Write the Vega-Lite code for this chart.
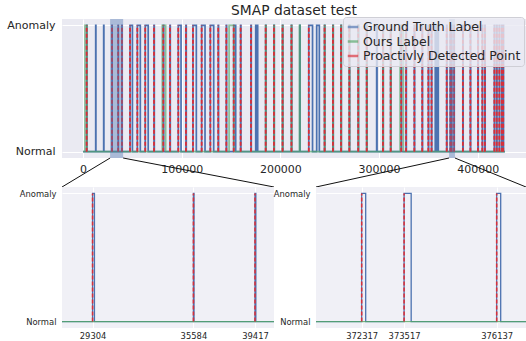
{
  "$schema": "https://vega.github.io/schema/vega-lite/v6.json",
  "padding": {"left": 6, "top": 4, "right": 0, "bottom": 0},
  "background": "white",
  "config": {
    "font": "DejaVu Sans",
    "view": {"stroke": null},
    "axis": {"domain": false, "ticks": false, "tickSize": 0, "gridColor": "#ffffff", "gridWidth": 1, "gridOpacity": 1, "labelColor": "#262626", "labelFont": "DejaVu Sans", "labelOverlap": false, "labelFlush": false}
  },
  "datasets": {
    "gt": [
      {"t":0,"v":0},
      {"t":3600,"v":1},{"t":3900,"v":0},
      {"t":12780,"v":1},{"t":13000,"v":0},
      {"t":20870,"v":1},{"t":21100,"v":0},
      {"t":29304,"v":1},{"t":29420,"v":0},
      {"t":35584,"v":1},{"t":35620,"v":0},
      {"t":39417,"v":1},{"t":39470,"v":0},
      {"t":47600,"v":1},{"t":50000,"v":0},
      {"t":55000,"v":1},{"t":58000,"v":0},
      {"t":63000,"v":1},{"t":66000,"v":0},
      {"t":71900,"v":1},{"t":72200,"v":0},
      {"t":81300,"v":1},{"t":81700,"v":0},
      {"t":88100,"v":1},{"t":88400,"v":0},
      {"t":96500,"v":1},{"t":99300,"v":0},
      {"t":104300,"v":1},{"t":104600,"v":0},
      {"t":111400,"v":1},{"t":114800,"v":0},
      {"t":120200,"v":1},{"t":123600,"v":0},
      {"t":129000,"v":1},{"t":132400,"v":0},
      {"t":137000,"v":1},{"t":137300,"v":0},
      {"t":145200,"v":1},{"t":145500,"v":0},
      {"t":152700,"v":1},{"t":154700,"v":0},
      {"t":159700,"v":1},{"t":160000,"v":0},
      {"t":170200,"v":1},{"t":170500,"v":0},
      {"t":175000,"v":1},{"t":175500,"v":0},
      {"t":175800,"v":1},{"t":176300,"v":0},
      {"t":176600,"v":1},{"t":177000,"v":0},
      {"t":185100,"v":1},{"t":185400,"v":0},
      {"t":193500,"v":1},{"t":193800,"v":0},
      {"t":202200,"v":1},{"t":202500,"v":0},
      {"t":211200,"v":1},{"t":211500,"v":0},
      {"t":219700,"v":1},{"t":220000,"v":0},
      {"t":228800,"v":1},{"t":232600,"v":0},
      {"t":236800,"v":1},{"t":239500,"v":0},
      {"t":244800,"v":1},{"t":245100,"v":0},
      {"t":253300,"v":1},{"t":253600,"v":0},
      {"t":261500,"v":1},{"t":261800,"v":0},
      {"t":269900,"v":1},{"t":270200,"v":0},
      {"t":278900,"v":1},{"t":279200,"v":0},
      {"t":287500,"v":1},{"t":287800,"v":0},
      {"t":297600,"v":1},{"t":298000,"v":0},
      {"t":304000,"v":1},{"t":304300,"v":0},
      {"t":311800,"v":1},{"t":312100,"v":0},
      {"t":322500,"v":1},{"t":322800,"v":0},
      {"t":327400,"v":1},{"t":327700,"v":0},
      {"t":335800,"v":1},{"t":336100,"v":0},
      {"t":343800,"v":1},{"t":344100,"v":0},
      {"t":350000,"v":1},{"t":350300,"v":0},
      {"t":353200,"v":1},{"t":353500,"v":0},
      {"t":357000,"v":1},{"t":357600,"v":0},
      {"t":357900,"v":1},{"t":358500,"v":0},
      {"t":358800,"v":1},{"t":359400,"v":0},
      {"t":359700,"v":1},{"t":360100,"v":0},
      {"t":368600,"v":1},{"t":368900,"v":0},
      {"t":372317,"v":1},{"t":372430,"v":0},
      {"t":373517,"v":1},{"t":373717,"v":0},
      {"t":376137,"v":1},{"t":376250,"v":0},
      {"t":385000,"v":1},{"t":385300,"v":0},
      {"t":392600,"v":1},{"t":392900,"v":0},
      {"t":400300,"v":1},{"t":400600,"v":0},
      {"t":404700,"v":1},{"t":405000,"v":0},
      {"t":407300,"v":1},{"t":407600,"v":0},
      {"t":416900,"v":1},{"t":417200,"v":0},
      {"t":419300,"v":1},{"t":419600,"v":0},
      {"t":421900,"v":1},{"t":422200,"v":0},
      {"t":424400,"v":1},{"t":424700,"v":0},
      {"t":425900,"v":1},{"t":426200,"v":0},
      {"t":427617,"v":0}
    ],
    "ours": [
      {"t":0,"v":0},
      {"t":1900,"v":1},{"t":3900,"v":0},
      {"t":80300,"v":1},{"t":83700,"v":0},
      {"t":148000,"v":1},{"t":152700,"v":0},
      {"t":185100,"v":1},{"t":185400,"v":0},
      {"t":193500,"v":1},{"t":193800,"v":0},
      {"t":202200,"v":1},{"t":202500,"v":0},
      {"t":211200,"v":1},{"t":211500,"v":0},
      {"t":219300,"v":1},{"t":220000,"v":0},
      {"t":244800,"v":1},{"t":245100,"v":0},
      {"t":253300,"v":1},{"t":253600,"v":0},
      {"t":261500,"v":1},{"t":261800,"v":0},
      {"t":269900,"v":1},{"t":270200,"v":0},
      {"t":278900,"v":1},{"t":279200,"v":0},
      {"t":287500,"v":1},{"t":287800,"v":0},
      {"t":304000,"v":1},{"t":304300,"v":0},
      {"t":311800,"v":1},{"t":312100,"v":0},
      {"t":321300,"v":1},{"t":324600,"v":0},
      {"t":427617,"v":0}
    ],
    "det": [
      {"t":3600},{"t":29304},{"t":35584},{"t":39417},{"t":47600},{"t":55000},{"t":63000},{"t":71900},{"t":81300},{"t":88100},{"t":96500},{"t":104300},{"t":111400},{"t":120200},{"t":129000},{"t":137000},{"t":145200},{"t":152700},{"t":159700},{"t":170200},{"t":185100},{"t":193500},{"t":202200},{"t":211200},{"t":228800},{"t":244800},{"t":253300},{"t":261500},{"t":269900},{"t":278900},{"t":287500},{"t":304000},{"t":311800},{"t":322500},{"t":327400},{"t":335800},{"t":343800},{"t":350000},{"t":353200},{"t":368600},{"t":372317},{"t":373517},{"t":376137},{"t":385000},{"t":392600},{"t":400300},{"t":404700},{"t":407300},{"t":416900},{"t":419300},{"t":421900},{"t":424400},{"t":425900}
    ],
    "zoomwin": [
      {"a": 27400, "b": 40600},
      {"a": 371024, "b": 376966}
    ],
    "links": [
      {"x": 27400, "y": -0.05, "x2": -21381, "y2": -0.2795},
      {"x": 40600, "y": -0.05, "x2": 193534, "y2": -0.2795},
      {"x": 371024, "y": -0.05, "x2": 236111, "y2": -0.2795},
      {"x": 376966, "y": -0.05, "x2": 448998, "y2": -0.2795}
    ]
  },
  "bounds": "flush",
  "spacing": 29,
  "vconcat": [
    {
      "width": 464,
      "height": 139,
      "view": {"fill": "#EAEAF2", "stroke": null},
      "title": {"text": "SMAP dataset test", "fontSize": 13.8, "fontWeight": "normal", "color": "#262626", "font": "DejaVu Sans", "anchor": "middle", "offset": 1},
      "layer": [
        {
          "data": {"name": "gt"},
          "mark": {"type": "line", "interpolate": "step-after", "strokeWidth": 1.7, "opacity": 1, "clip": true},
          "encoding": {
            "x": {"field": "t", "type": "quantitative", "title": null, "scale": {"domain": [-21381, 448998], "nice": false, "zero": false},
                  "axis": {"values": [0, 100000, 200000, 300000, 400000], "format": "d", "labelFontSize": 11, "labelPadding": 5, "title": null}},
            "y": {"field": "v", "type": "quantitative", "title": null, "scale": {"domain": [-0.05, 1.05], "nice": false, "zero": false},
                  "axis": {"values": [0, 1], "labelExpr": "datum.value == 1 ? 'Anomaly' : 'Normal'", "labelFontSize": 11, "labelPadding": 7, "title": null}},
            "color": {"datum": "Ground Truth Label",
                      "scale": {"domain": ["Ground Truth Label", "Ours Label", "Proactivly Detected Point"], "range": ["#4C72B0", "#55A868", "#DD2C35"]},
                      "legend": {"orient": "none", "legendX": 281, "legendY": -2, "title": null, "labelFontSize": 12.5, "labelColor": "#262626", "labelFont": "DejaVu Sans", "symbolType": "stroke", "symbolSize": 110, "symbolStrokeWidth": 2.7, "symbolDash": [1, 0], "symbolOpacity": 1, "labelOffset": 3, "rowPadding": 0.5, "padding": 3, "fillColor": "rgba(234,234,242,0.8)", "strokeColor": "#cfcfd6", "cornerRadius": 3, "labelLimit": 300}}
          }
        },
        {
          "data": {"name": "ours"},
          "mark": {"type": "line", "interpolate": "step-after", "strokeWidth": 1.7, "opacity": 0.65, "clip": true},
          "encoding": {
            "x": {"field": "t", "type": "quantitative", "title": null},
            "y": {"field": "v", "type": "quantitative", "title": null},
            "color": {"datum": "Ours Label"}
          }
        },
        {
          "data": {"name": "det"},
          "mark": {"type": "rule", "strokeWidth": 1.8, "strokeDash": [4, 2], "opacity": 1, "clip": true},
          "encoding": {
            "x": {"field": "t", "type": "quantitative", "title": null},
            "y": {"datum": 0},
            "y2": {"datum": 1},
            "color": {"datum": "Proactivly Detected Point"}
          }
        },
        {
          "data": {"name": "zoomwin"},
          "mark": {"type": "rect", "color": "#4C72B0", "opacity": 0.4},
          "encoding": {
            "x": {"field": "a", "type": "quantitative", "title": null},
            "x2": {"field": "b"},
            "y": {"datum": -0.05},
            "y2": {"datum": 1.05}
          }
        },
        {
          "data": {"name": "links"},
          "mark": {"type": "rule", "color": "#111111", "strokeWidth": 1, "clip": false},
          "encoding": {
            "x": {"field": "x", "type": "quantitative", "title": null},
            "y": {"field": "y", "type": "quantitative", "title": null},
            "x2": {"field": "x2"},
            "y2": {"field": "y2"}
          }
        }
      ]
    },
    {
      "bounds": "flush",
      "spacing": 42,
      "hconcat": [
        {
          "width": 212,
          "height": 141,
          "view": {"fill": "#F0F0F6", "stroke": null},
          "layer": [
            {
              "data": {"name": "gt"},
              "mark": {"type": "line", "interpolate": "step-after", "strokeWidth": 1.3, "color": "#4C72B0", "clip": true},
              "encoding": {
                "x": {"field": "t", "type": "quantitative", "title": null, "scale": {"domain": [27400, 40600], "nice": false, "zero": false},
                      "axis": {"values": [29304, 35584, 39417], "format": "d", "labelFontSize": 8.4, "labelPadding": 3.5, "title": null}},
                "y": {"field": "v", "type": "quantitative", "title": null, "scale": {"domain": [-0.05, 1.05], "nice": false, "zero": false},
                      "axis": {"values": [0, 1], "labelExpr": "datum.value == 1 ? 'Anomaly' : 'Normal'", "labelFontSize": 8.4, "labelPadding": 6, "title": null}}
              }
            },
            {
              "data": {"name": "ours"},
              "mark": {"type": "line", "interpolate": "step-after", "strokeWidth": 1.3, "color": "#55A868", "opacity": 0.8, "clip": true},
              "encoding": {
                "x": {"field": "t", "type": "quantitative", "title": null},
                "y": {"field": "v", "type": "quantitative", "title": null}
              }
            },
            {
              "data": {"name": "det"},
              "mark": {"type": "rule", "strokeWidth": 1.6, "strokeDash": [4, 2], "color": "#DD2C35", "opacity": 0.95, "clip": true},
              "encoding": {
                "x": {"field": "t", "type": "quantitative", "title": null},
                "y": {"datum": 0},
                "y2": {"datum": 1}
              }
            }
          ]
        },
        {
          "width": 210,
          "height": 141,
          "view": {"fill": "#F0F0F6", "stroke": null},
          "layer": [
            {
              "data": {"name": "gt"},
              "mark": {"type": "line", "interpolate": "step-after", "strokeWidth": 1.3, "color": "#4C72B0", "clip": true},
              "encoding": {
                "x": {"field": "t", "type": "quantitative", "title": null, "scale": {"domain": [371024, 376966], "nice": false, "zero": false},
                      "axis": {"values": [372317, 373517, 376137], "format": "d", "labelFontSize": 8.4, "labelPadding": 3.5, "title": null}},
                "y": {"field": "v", "type": "quantitative", "title": null, "scale": {"domain": [-0.05, 1.05], "nice": false, "zero": false},
                      "axis": {"values": [0, 1], "labelExpr": "datum.value == 1 ? 'Anomaly' : 'Normal'", "labelFontSize": 8.4, "labelPadding": 6, "title": null}}
              }
            },
            {
              "data": {"name": "ours"},
              "mark": {"type": "line", "interpolate": "step-after", "strokeWidth": 1.3, "color": "#55A868", "opacity": 0.8, "clip": true},
              "encoding": {
                "x": {"field": "t", "type": "quantitative", "title": null},
                "y": {"field": "v", "type": "quantitative", "title": null}
              }
            },
            {
              "data": {"name": "det"},
              "mark": {"type": "rule", "strokeWidth": 1.6, "strokeDash": [4, 2], "color": "#DD2C35", "opacity": 0.95, "clip": true},
              "encoding": {
                "x": {"field": "t", "type": "quantitative", "title": null},
                "y": {"datum": 0},
                "y2": {"datum": 1}
              }
            }
          ]
        }
      ]
    }
  ]
}
